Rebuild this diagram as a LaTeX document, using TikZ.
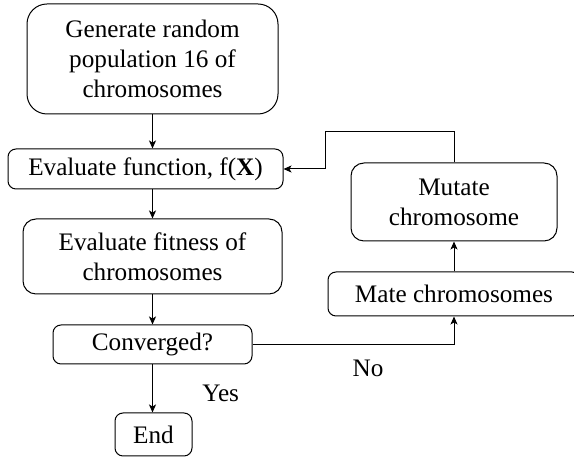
\documentclass[tikz,border=0pt]{standalone}
\usepackage{fontspec}
\setmainfont{Liberation Serif}
\usetikzlibrary{arrows.meta,positioning,calc}

\begin{document}
\begin{tikzpicture}[x=1pt,y=1pt,font=\fontsize{25.2}{30}\selectfont,line width=1pt,
  box/.style={draw,rounded corners=8pt,align=center,inner sep=0pt},
  bigbox/.style={box,rounded corners=13pt},
  >={Stealth[length=8pt,width=7pt,inset=2pt]}]
  \useasboundingbox (0,0) rectangle (574,457);
  \node[bigbox,rounded corners=20pt,minimum width=251pt,minimum height=110pt] (gen) at (152.5,398) {Generate random\\population 16 of\\chromosomes};
  \node[box,minimum width=275pt,minimum height=40pt] (func) at (145.5,288) {Evaluate function, f(\textbf{X})};
  \node[bigbox,minimum width=259pt,minimum height=75pt] (fit) at (152.5,200.5) {Evaluate fitness of\\chromosomes};
  \node[box,minimum width=199pt,minimum height=39pt] (conv) at (152.5,112.5) {Converged?};
  \node[box,minimum width=77pt,minimum height=43pt] (end) at (153.5,22.5) {End};
  \node[box,minimum width=252pt,minimum height=44pt] (mate) at (454,163) {Mate chromosomes};
  \node[bigbox,minimum width=206pt,minimum height=78pt] (mut) at (454,255) {Mutate\\chromosome};
  \coordinate (back) at (325,325);
  \draw[->] (gen.south) -- (gen.south |- func.north);
  \draw[->] (fit.north |- func.south) -- (fit.north);
  \draw[->] (fit) -- (conv);
  \draw[->] (conv.south) -- node[right=46pt,pos=0.6]{Yes} (conv.south |- end.north);
  \draw[->] (conv.east) -| (mate.south);
  \node (no) at (368,89) {No};
  \draw[->] (mate) -- (mut);
  \draw[->] (mut.north) |- (back) |- (func.east);
\end{tikzpicture}
\end{document}
